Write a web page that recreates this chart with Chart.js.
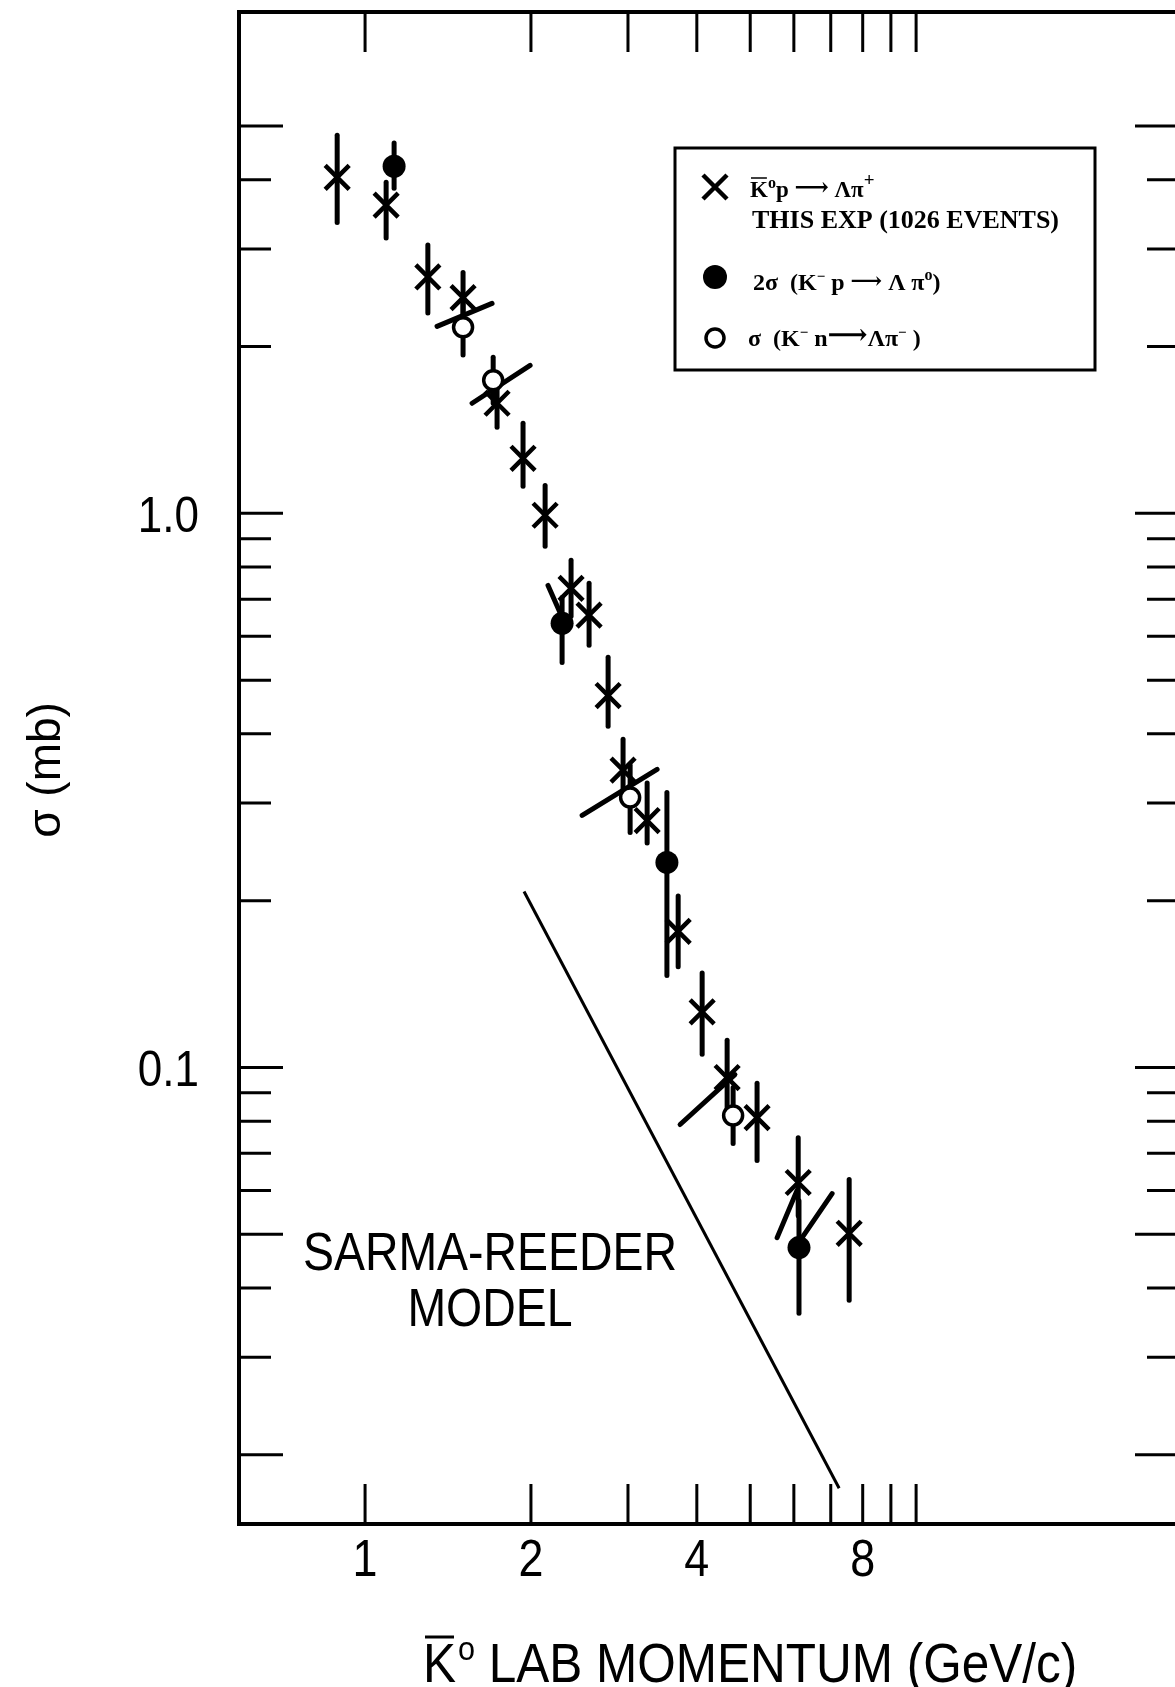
<!DOCTYPE html>
<html>
<head>
<meta charset="utf-8">
<script src="https://cdn.jsdelivr.net/npm/chart.js@4.4.1/dist/chart.umd.min.js"></script>
<style>
  html, body { margin: 0; padding: 0; background: #fff; overflow: hidden; }
  canvas { display: block; }
</style>
</head>
<body>
<canvas id="chart" width="1175" height="1687"></canvas>
<script>
// K0bar p -> Lambda pi+ , this experiment (crosses)
const crossP = [0.89, 1.092, 1.30, 1.506, 1.736, 1.935, 2.122, 2.365, 2.55, 2.761, 2.939, 3.25, 3.70, 4.09, 4.54, 5.145, 6.11, 7.56];
const crossSigma = [4.04, 3.60, 2.67, 2.45, 1.58, 1.257, 0.992, 0.732, 0.655, 0.469, 0.344, 0.279, 0.176, 0.126, 0.0959, 0.0812, 0.062, 0.0502];
const crossLo = [3.35, 3.14, 2.30, 2.21, 1.43, 1.119, 0.872, 0.652, 0.578, 0.413, 0.303, 0.254, 0.152, 0.1056, 0.0836, 0.0679, 0.054, 0.038];
const crossHi = [4.81, 3.96, 3.05, 2.72, 1.75, 1.454, 1.123, 0.823, 0.748, 0.550, 0.391, 0.326, 0.204, 0.148, 0.112, 0.0936, 0.0747, 0.0628];

// 2 sigma (K- p -> Lambda pi0) (filled circles)
const fullP = [1.129, 2.278, 3.53, 6.13];
const fullSigma = [4.23, 0.633, 0.2344, 0.0473];
const fullLo = [3.86, 0.538, 0.1466, 0.036];
const fullHi = [4.66, 0.705, 0.3135, 0.0575];

// sigma (K- n -> Lambda pi-) (open circles)
const openP = [1.506, 1.708, 3.027, 4.655];
const openSigma = [2.166, 1.738, 0.307, 0.0819];
const openLo = [1.93, 1.58, 0.2656, 0.0729];
const openHi = [2.42, 1.912, 0.351, 0.092];

// slanted bars drawn through some of the points
const slantP1 = [1.351, 1.564, 2.148, 2.477, 3.73, 5.595, 6.21];
const slantS1 = [2.175, 1.58, 0.741, 0.285, 0.0789, 0.0493, 0.0493];
const slantP2 = [1.70, 1.993, 2.278, 3.388, 4.69, 6.08, 7.04];
const slantS2 = [2.393, 1.849, 0.649, 0.345, 0.0971, 0.060, 0.0592];

// Sarma-Reeder model
const modelP = [1.943, 7.25];
const modelSigma = [0.2078, 0.0174];

// axes
const xTicks = [1, 2, 3, 4, 5, 6, 7, 8, 9, 10];
const xLabelValues = [1, 2, 4, 8];
const xLabelText = ["1", "2", "4", "8"];
const yTicks = [5, 4, 3, 2, 1, 0.9, 0.8, 0.7, 0.6, 0.5, 0.4, 0.3, 0.2, 0.1, 0.09, 0.08, 0.07, 0.06, 0.05, 0.04, 0.03, 0.02];
const yMajor = [5, 1, 0.1, 0.05, 0.02];
const yLabelValues = [1, 0.1];
const yLabelText = ["1.0", "0.1"];

const toPoints = (xs, ys) => xs.map((v, i) => ({ x: v, y: ys[i] }));

const LETTER = '"Liberation Sans", Arial, sans-serif';
const SERIF = '"Liberation Serif", "DejaVu Serif", serif';

function squeezedText(ctx, text, x, y, sx, align) {
  ctx.save();
  ctx.translate(x, y);
  ctx.scale(sx, 1);
  ctx.textAlign = align;
  ctx.fillText(text, 0, 0);
  ctx.restore();
}

function richText(ctx, parts, x, y) {
  // parts: [text, size, rise]
  parts.forEach(([t, size, rise]) => {
    ctx.font = `bold ${size}px ${SERIF}`;
    ctx.fillText(t, x, y - rise);
    x += ctx.measureText(t).width;
  });
  return x;
}

const paperPlugin = {
  id: "paper",
  beforeDatasetsDraw(chart) {
    const { ctx, scales: { x, y } } = chart;
    ctx.save();
    ctx.strokeStyle = "#000";
    ctx.lineCap = "round";
    ctx.lineWidth = 5;

    const bars = (xs, lo, hi) => xs.forEach((v, i) => {
      const px = x.getPixelForValue(v);
      ctx.beginPath();
      ctx.moveTo(px, y.getPixelForValue(lo[i]));
      ctx.lineTo(px, y.getPixelForValue(hi[i]));
      ctx.stroke();
    });
    bars(crossP, crossLo, crossHi);
    bars(fullP, fullLo, fullHi);
    bars(openP, openLo, openHi);

    slantP1.forEach((v, i) => {
      ctx.beginPath();
      ctx.moveTo(x.getPixelForValue(v), y.getPixelForValue(slantS1[i]));
      ctx.lineTo(x.getPixelForValue(slantP2[i]), y.getPixelForValue(slantS2[i]));
      ctx.stroke();
    });
    ctx.restore();
  },
  afterDraw(chart) {
    const { ctx, chartArea: a, scales: { x, y } } = chart;
    ctx.save();
    ctx.strokeStyle = "#000";
    ctx.fillStyle = "#000";

    // frame (right edge runs off the page)
    ctx.lineWidth = 4;
    ctx.beginPath();
    ctx.moveTo(a.right + 5, a.top);
    ctx.lineTo(a.left, a.top);
    ctx.lineTo(a.left, a.bottom);
    ctx.lineTo(a.right + 5, a.bottom);
    ctx.stroke();

    // inward ticks
    ctx.lineWidth = 3;
    yTicks.forEach(v => {
      const py = y.getPixelForValue(v);
      const len = yMajor.includes(v) ? 44 : 32;
      ctx.beginPath();
      ctx.moveTo(a.left, py);
      ctx.lineTo(a.left + len, py);
      ctx.moveTo(a.right, py);
      ctx.lineTo(a.right - len + 4, py);
      ctx.stroke();
    });
    xTicks.forEach(v => {
      const px = x.getPixelForValue(v);
      ctx.beginPath();
      ctx.moveTo(px, a.bottom);
      ctx.lineTo(px, a.bottom - 40);
      ctx.moveTo(px, a.top);
      ctx.lineTo(px, a.top + 40);
      ctx.stroke();
    });

    // tick labels
    ctx.font = `50px ${LETTER}`;
    ctx.textBaseline = "alphabetic";
    yLabelValues.forEach((v, i) => {
      squeezedText(ctx, yLabelText[i], 199, y.getPixelForValue(v) + 19, 0.88, "right");
    });
    ctx.font = `51px ${LETTER}`;
    xLabelValues.forEach((v, i) => {
      squeezedText(ctx, xLabelText[i], x.getPixelForValue(v), 1576, 0.88, "center");
    });

    // x title: K-bar degree LAB MOMENTUM (GeV/c)
    ctx.font = `55px ${LETTER}`;
    const sx = 0.9;
    let tx = 423;
    const base = 1682;
    const wK = ctx.measureText("K").width * sx;
    squeezedText(ctx, "K", tx, base, sx, "left");
    ctx.lineWidth = 3;
    ctx.beginPath();
    ctx.moveTo(tx + 2, base - 45);
    ctx.lineTo(tx + wK - 2, base - 45);
    ctx.stroke();
    tx += wK + 2;
    ctx.font = `34px ${LETTER}`;
    squeezedText(ctx, "o", tx, base - 22, sx, "left");
    tx += ctx.measureText("o").width * sx;
    ctx.font = `55px ${LETTER}`;
    squeezedText(ctx, " LAB MOMENTUM (GeV/c)", tx, base, sx, "left");

    // y title
    ctx.save();
    ctx.translate(60, 770);
    ctx.rotate(-Math.PI / 2);
    ctx.font = `46px ${LETTER}`;
    ctx.textAlign = "center";
    ctx.fillText("\u03C3 (mb)", 0, 0);
    ctx.restore();

    // model label
    ctx.font = `54px ${LETTER}`;
    squeezedText(ctx, "SARMA-REEDER", 490, 1270, 0.86, "center");
    squeezedText(ctx, "MODEL", 490, 1326, 0.86, "center");

    // legend box
    ctx.lineWidth = 3;
    ctx.strokeRect(675, 148, 420, 222);

    // legend markers
    ctx.lineWidth = 4.5;
    ctx.beginPath();
    ctx.moveTo(703, 175); ctx.lineTo(727, 199);
    ctx.moveTo(727, 175); ctx.lineTo(703, 199);
    ctx.stroke();
    ctx.beginPath();
    ctx.arc(715, 277, 12, 0, Math.PI * 2);
    ctx.fill();
    ctx.lineWidth = 3.5;
    ctx.beginPath();
    ctx.arc(715, 338, 9, 0, Math.PI * 2);
    ctx.stroke();

    // legend text
    ctx.textAlign = "left";
    const lx = 750;
    ctx.font = `bold 23px ${SERIF}`;
    const kw = ctx.measureText("K").width;
    ctx.lineWidth = 1.5;
    ctx.beginPath();
    ctx.moveTo(lx + 1, 178); ctx.lineTo(lx + kw - 1, 178);
    ctx.stroke();
    richText(ctx, [["K", 23, 0], ["o", 16, 9], ["p ", 23, 0], ["\u27F6", 24, 2], [" \u039B\u03C0", 23, 0], ["+", 19, 11]], lx, 197);
    ctx.font = `bold 26px ${SERIF}`;
    ctx.fillText("THIS EXP (1026 EVENTS)", 752, 228);
    richText(ctx, [["2\u03C3  (K", 24, 0], ["\u2212", 15, 9], [" p ", 24, 0], ["\u27F6", 22, 2], [" \u039B \u03C0", 24, 0], ["o", 16, 10], [")", 24, 0]], 753, 290);
    richText(ctx, [["\u03C3  (K", 24, 0], ["\u2212", 15, 9], [" n", 24, 0], ["\u27F6", 28, 2], ["\u039B\u03C0", 24, 0], ["\u2212", 15, 9], [" )", 24, 0]], 748, 346);

    ctx.restore();
  }
};

const ctx = document.getElementById("chart").getContext("2d");
const chart = new Chart(ctx, {
  type: "scatter",
  data: {
    datasets: [
      {
        label: "model",
        type: "line",
        data: toPoints(modelP, modelSigma),
        borderColor: "#000",
        borderWidth: 3,
        pointRadius: 0,
        fill: false,
        order: 4,
      },
      {
        label: "K0bar p",
        data: toPoints(crossP, crossSigma),
        pointStyle: "crossRot",
        radius: 17,
        borderColor: "#000",
        borderWidth: 4.5,
        order: 3,
      },
      {
        label: "K- p",
        data: toPoints(fullP, fullSigma),
        pointStyle: "circle",
        radius: 11.5,
        backgroundColor: "#000",
        borderColor: "#000",
        borderWidth: 0,
        order: 2,
      },
      {
        label: "K- n",
        data: toPoints(openP, openSigma),
        pointStyle: "circle",
        radius: 9.5,
        backgroundColor: "#fff",
        borderColor: "#000",
        borderWidth: 3.5,
        order: 1,
      },
    ],
  },
  options: {
    responsive: false,
    animation: false,
    devicePixelRatio: 1,
    layout: { autoPadding: false, padding: { left: 239, top: 12, right: 0, bottom: 163 } },
    plugins: {
      legend: { display: false },
      tooltip: { enabled: false },
    },
    scales: {
      x: { type: "logarithmic", min: 0.5905, max: 29.5, bounds: "data", display: false },
      y: { type: "logarithmic", min: 0.015, max: 8.03, bounds: "data", display: false },
    },
  },
  plugins: [paperPlugin],
});
</script>
</body>
</html>
